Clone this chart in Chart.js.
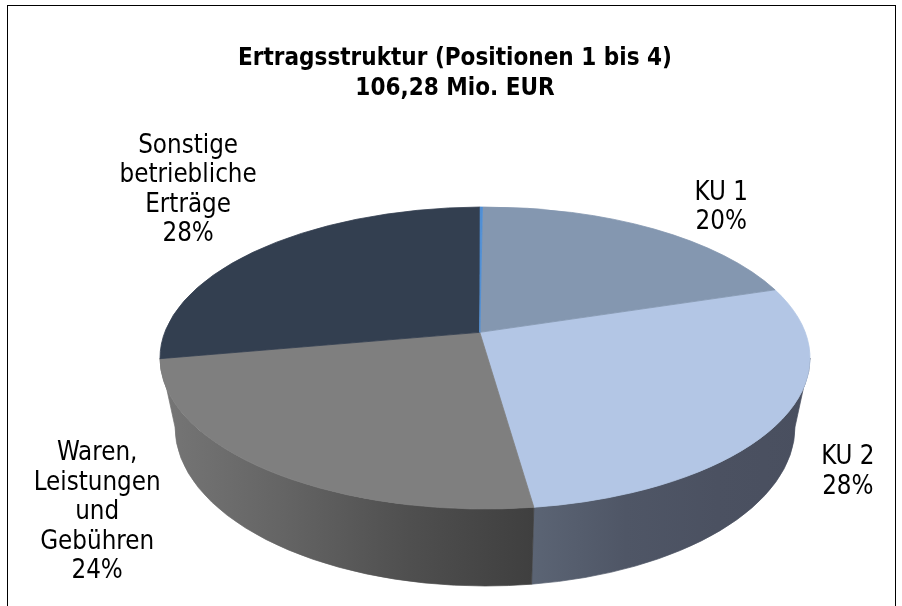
<!DOCTYPE html>
<html>
<head>
<meta charset="utf-8">
<script src="https://cdn.jsdelivr.net/npm/chart.js@4.4.1/dist/chart.umd.min.js"></script>
<style>
  html, body { margin: 0; padding: 0; background: #ffffff; }
  canvas { display: block; }
</style>
</head>
<body>
<canvas id="c" width="902" height="606"></canvas>
<script>
// ---------------- DATA ----------------
const categories = ['', 'KU 1', 'KU 2', 'Waren, Leistungen und Gebühren', 'Sonstige betriebliche Erträge'];
const categoryLines = [[], ['KU 1'], ['KU 2'], ['Waren,', 'Leistungen', 'und', 'Gebühren'], ['Sonstige', 'betriebliche', 'Erträge']];
const valuesMioEUR = [0.14, 21.3, 29.3, 25.98, 29.56];
const titleLines = ['Ertragsstruktur (Positionen 1 bis 4)', '106,28 Mio. EUR'];

// ---------------- STYLE / LAYOUT ----------------
const topColors = ['#4f8fd6', '#8497b0', '#b3c6e5', '#7f7f7f', '#333f50'];
const sideColors = [
  ['#3d6fa6', '#3d6fa6'],
  ['#5d6b7d', '#4f5b6b'],
  ['#5b6474', '#4f5666', '#4b5161', '#494f5f'],
  ['#767676', '#646464', '#4f4f4f', '#3f3f3f'],
  ['#2a3342', '#242c39']
];
const labelOffsets = [[0, 0], [72, -20], [66, 53], [-167, 44], [-73, -58]];
const G = { cx: 485, cy: 358, rx: 325, ry: 151, bcx: 485, bcy: 427, brx: 310, bry: 159, px: -0.016, py: -0.17 };
const FAMILY = '"DejaVu Sans Condensed", "DejaVu Sans", sans-serif';

const mctx = document.createElement('canvas').getContext('2d');
function fitSize(text, weight, target) {
  mctx.font = weight + ' 100px ' + FAMILY;
  return 100 * target / mctx.measureText(text).width;
}
const titleSize = fitSize(titleLines[0], 'bold', 434);
const labelSize = fitSize('Leistungen', 'normal', 127);
const LABEL_LH = 29.5;

// perspective (projective disk automorphism) mapping of rim angles
const p2 = G.px * G.px + G.py * G.py;
const kA = (1 - Math.sqrt(1 - p2)) / p2;
const ax = G.px * kA, ay = G.py * kA;
function wrapPi(x) { while (x > Math.PI) x -= 2 * Math.PI; while (x <= -Math.PI) x += 2 * Math.PI; return x; }
function mapAngle(t) {
  const zx = Math.cos(t), zy = Math.sin(t);
  const nx = zx + ax, ny = zy + ay;
  const cx = ax * zx + ay * zy, cy = ax * zy - ay * zx;
  const dx = 1 + cx, dy = cy;
  const arg = Math.atan2(ny, nx) - Math.atan2(dy, dx);
  return t + wrapPi(arg - t);
}
function rimTop(a) { return [G.cx + G.rx * Math.cos(a), G.cy + G.ry * Math.sin(a)]; }
const centerPt = [G.cx + G.rx * G.px, G.cy + G.ry * G.py];
const SNAP = 0.06; // snap wall ends to the silhouette

const pie3d = {
  id: 'pie3d',
  beforeDatasetsDraw(chart) {
    const ctx = chart.ctx;
    const arcs = chart.getDatasetMeta(0).data;
    const sl = arcs.map((arc, i) => ({ i, s: mapAngle(arc.startAngle), e: mapAngle(arc.endAngle) }));
    ctx.save();
    // side walls (front half only)
    sl.forEach(o => {
      let a = Math.max(o.s, 0), b = Math.min(o.e, Math.PI);
      if (b - a < SNAP) return;
      if (Math.PI - b < SNAP) b = Math.PI;
      if (a < SNAP) a = 0;
      const x1 = G.cx + G.rx * Math.cos(b), x2 = G.cx + G.rx * Math.cos(a);
      const gr = ctx.createLinearGradient(Math.min(x1, x2), 0, Math.max(x1, x2), 0);
      const cols = sideColors[o.i];
      cols.forEach((c, k) => gr.addColorStop(k / (cols.length - 1), c));
      ctx.beginPath();
      ctx.ellipse(G.cx, G.cy, G.rx, G.ry, 0, a, b, false);
      ctx.lineTo(G.bcx + G.brx * Math.cos(b), G.bcy + G.bry * Math.sin(b));
      ctx.ellipse(G.bcx, G.bcy, G.brx, G.bry, 0, b, a, true);
      ctx.closePath();
      ctx.fillStyle = gr;
      ctx.fill();
      ctx.strokeStyle = gr;
      ctx.lineWidth = 0.7;
      ctx.stroke();
    });
    // top faces (tiny slices last)
    const order = sl.slice().sort((u, v) => (v.e - v.s) - (u.e - u.s));
    order.forEach(o => {
      ctx.beginPath();
      ctx.moveTo(centerPt[0], centerPt[1]);
      ctx.ellipse(G.cx, G.cy, G.rx, G.ry, 0, o.s, o.e, false);
      ctx.closePath();
      ctx.fillStyle = topColors[o.i];
      ctx.fill();
      ctx.strokeStyle = topColors[o.i];
      ctx.lineWidth = 0.8;
      ctx.stroke();
    });
    ctx.restore();
    return false;
  },
  afterDraw(chart) {
    const ctx = chart.ctx;
    const arcs = chart.getDatasetMeta(0).data;
    const total = valuesMioEUR.reduce((s, v) => s + v, 0);
    ctx.save();
    ctx.fillStyle = '#000000';
    ctx.font = 'normal ' + labelSize.toFixed(2) + 'px ' + FAMILY;
    ctx.textAlign = 'center';
    ctx.textBaseline = 'middle';
    arcs.forEach((arc, i) => {
      if (!categoryLines[i].length) return;
      const mid = mapAngle((arc.startAngle + arc.endAngle) / 2);
      const r = rimTop(mid);
      const x = r[0] + labelOffsets[i][0], y = r[1] + labelOffsets[i][1];
      const lines = categoryLines[i].concat([Math.round(valuesMioEUR[i] / total * 100) + '%']);
      const y0 = y - (lines.length - 1) * LABEL_LH / 2;
      lines.forEach((t, k) => ctx.fillText(t, x, y0 + k * LABEL_LH));
    });
    // outer frame
    ctx.strokeStyle = '#000000';
    ctx.lineWidth = 1;
    ctx.strokeRect(7.5, 5.5, 888, 620);
    ctx.restore();
  }
};

new Chart(document.getElementById('c'), {
  type: 'pie',
  data: {
    labels: categories,
    datasets: [{ data: valuesMioEUR, backgroundColor: topColors, borderWidth: 0 }]
  },
  options: {
    responsive: false,
    devicePixelRatio: 1,
    animation: false,
    layout: { padding: { left: 8 } },
    plugins: {
      legend: { display: false },
      tooltip: { enabled: false },
      title: {
        display: true,
        text: titleLines,
        color: '#000000',
        font: { family: FAMILY, size: titleSize, weight: 'bold', lineHeight: 30 / titleSize },
        padding: { top: 44, bottom: 10 }
      }
    }
  },
  plugins: [pie3d]
});
</script>
</body>
</html>
